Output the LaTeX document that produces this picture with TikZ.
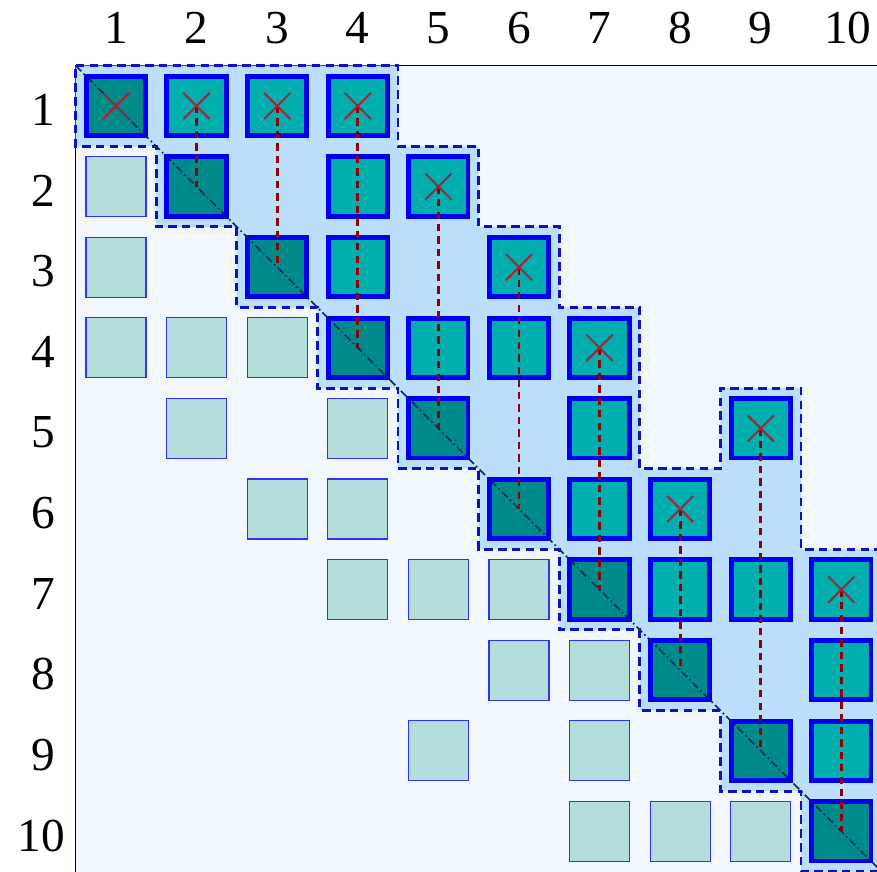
\documentclass[tikz,border=0pt]{standalone}
\usepackage{fontspec}
\setmainfont{Liberation Serif}
\usetikzlibrary{shapes.misc}
\definecolor{bgc}{RGB}{240,248,254}
\definecolor{envc}{RGB}{187,222,251}
\definecolor{envline}{RGB}{15,15,200}
\definecolor{boxline}{RGB}{0,0,240}
\definecolor{diagfill}{RGB}{0,139,139}
\definecolor{upfill}{RGB}{0,174,174}
\definecolor{lowfill}{RGB}{180,222,220}
\definecolor{lowline}{RGB}{50,50,245}
\definecolor{xred}{RGB}{175,30,50}
\definecolor{dred}{RGB}{145,0,0}
\definecolor{navyc}{RGB}{20,30,100}
\tikzset{
 diagbox/.style={draw=boxline, line width=1.75pt, fill=diagfill, minimum size=0.735cm, inner sep=0pt},
 upbox/.style={diagbox, fill=upfill},
 lowbox/.style={draw=lowline, line width=0.4pt, fill=lowfill, minimum size=0.745cm, inner sep=0pt},
 xmark/.style={cross out, draw=xred, line width=0.7pt, minimum size=0.3cm, inner sep=0pt},
 colref/.style={draw=dred, line width=1pt, dash pattern=on 2.6pt off 1.8pt},
 envstyle/.style={fill=envc, draw=envline, line width=1pt, dash pattern=on 3pt off 1.9pt},
 diagline/.style={draw=navyc, line width=0.6pt, dash pattern=on 2.8pt off 1.1pt on 0.6pt off 1.1pt},
 lbl/.style={font=\fontsize{16.7}{20}\selectfont, inner sep=0pt},
}
\begin{document}
\begin{tikzpicture}
\useasboundingbox (-0.439,-10.504) rectangle (10.442,0.315);
\clip (-0.439,-10.504) rectangle (10.442,0.315);
% background and axes
\fill[bgc] (0.5,-0.5) rectangle (10.7,-10.7);
\draw[black, line width=0.5pt] (0.5,-10.7) -- (0.5,-0.5) -- (10.7,-0.5);
% envelope
\path[envstyle] (0.5,-0.5) -- (4.5,-0.5) -- (4.5,-1.5) -- (5.5,-1.5) -- (5.5,-2.5) -- (6.5,-2.5) -- (6.5,-3.5) -- (7.5,-3.5) -- (7.5,-5.5) -- (8.5,-5.5) -- (8.5,-4.5) -- (9.5,-4.5) -- (9.5,-6.5) -- (10.5,-6.5) -- (10.5,-10.5)
 -- (9.5,-10.5) -- (9.5,-9.5) -- (8.5,-9.5) -- (8.5,-8.5) -- (7.5,-8.5) -- (7.5,-7.5) -- (6.5,-7.5) -- (6.5,-6.5) -- (5.5,-6.5) -- (5.5,-5.5) -- (4.5,-5.5) -- (4.5,-4.5) -- (3.5,-4.5) -- (3.5,-3.5) -- (2.5,-3.5) -- (2.5,-2.5) -- (1.5,-2.5) -- (1.5,-1.5) -- (0.5,-1.5) -- cycle;
% labels
\foreach \k in {1,...,9} {
  \node[lbl] (col\k) at (\k,-0.035) {\k};
  \node[lbl] (row\k) at (0.1,-\k-0.05) {\k};
}
\node[lbl] (col10) at (10.08,-0.035) {10};
\node[lbl] (row10) at (0.075,-10.06) {10};
% lower entries
\foreach \i/\j in {2/1,3/1,4/1,4/2,4/3,5/2,5/4,6/3,6/4,7/4,7/5,7/6,8/6,8/7,9/5,9/7,10/7,10/8,10/9}
  \node[lowbox] (c\i-\j) at (\j,-\i) {};
% upper entries
\foreach \i/\j in {1/2,1/3,1/4,2/4,2/5,3/4,3/6,4/5,4/6,4/7,5/7,5/9,6/7,6/8,7/8,7/9,7/10,8/10,9/10}
  \node[upbox] (c\i-\j) at (\j,-\i) {};
% diagonal
\foreach \k in {1,...,10}
  \node[diagbox] (c\k-\k) at (\k,-\k) {};
% diagonal line
\coordinate (dstart) at (0.5,-0.5);
\coordinate (dend) at (10.5,-10.5);
\draw[diagline] (dstart) -- (dend);
% column references
\foreach \t/\j in {1/2,1/3,1/4,2/5,3/6,4/7,6/8,5/9,7/10}
  \draw[colref] (c\t-\j.center) -- (c\j-\j.center);
% first entries
\foreach \t/\j in {1/1,1/2,1/3,1/4,2/5,3/6,4/7,6/8,5/9,7/10}
  \node[xmark] (x\j) at (c\t-\j.center) {};
\end{tikzpicture}
\end{document}
